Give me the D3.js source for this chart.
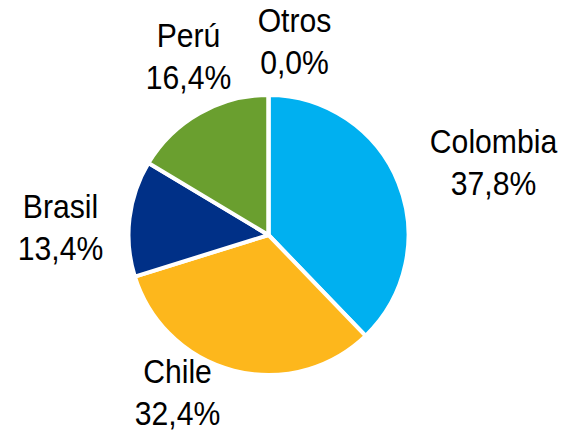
<!DOCTYPE html>
<html>
<head>
<meta charset="utf-8">
<script src="https://cdn.jsdelivr.net/npm/d3@7"></script>
<style>
  body { margin: 0; background: #fff; }
  .label { font-family: "Liberation Sans", Arial, sans-serif; font-size: 33.5px; fill: #000; }
</style>
</head>
<body>
<div id="vis"></div>
<script>
const FRAME_WIDTH = 564;
const FRAME_HEIGHT = 433;
const CENTER = {x: 268.5, y: 235};
const RADIUS = 140;

// data
const countries = ["Colombia", "Chile", "Brasil", "Perú", "Otros"];
const shares = [37.8, 32.4, 13.4, 16.4, 0.0];
const colors = ["#00B0F0", "#FDB71C", "#003087", "#6A9F2F", "#A6A6A6"];

// label anchors (centre x, first baseline) relative to pie centre
const LABEL_POS = [[225, -82], [-91, 148], [-208, -17], [-80, -188], [26, -203]];
const LINE_GAP = 42.5;

const data = countries.map((c, i) => ({name: c, value: shares[i]}));

const FRAME = d3.select("#vis")
  .append("svg")
    .attr("width", FRAME_WIDTH)
    .attr("height", FRAME_HEIGHT);

const g = FRAME.append("g")
  .attr("transform", "translate(" + CENTER.x + "," + CENTER.y + ")");

const pie = d3.pie()
  .sort(null)
  .value((d) => d.value);

const arc = d3.arc()
  .innerRadius(0)
  .outerRadius(RADIUS);

const arcs = pie(data);

g.selectAll("path")
  .data(arcs)
  .enter()
  .append("path")
    .attr("d", arc)
    .attr("fill", (d, i) => colors[i])
    .attr("stroke", "#fff")
    .attr("stroke-width", 4)
    .attr("stroke-linejoin", "round");

// labels: name + share with comma decimal
const fmt = (v) => v.toFixed(1).replace(".", ",") + "%";

const labels = g.selectAll("g.lbl")
  .data(arcs)
  .enter()
  .append("g")
    .attr("class", "lbl")
    .attr("transform", (d, i) => "translate(" + LABEL_POS[i][0] + "," + LABEL_POS[i][1] + ") scale(0.9,1)");

labels.append("text")
  .attr("class", "label")
  .attr("text-anchor", "middle")
  .attr("y", 0)
  .text((d) => d.data.name);

labels.append("text")
  .attr("class", "label")
  .attr("text-anchor", "middle")
  .attr("y", LINE_GAP)
  .text((d) => fmt(d.data.value));
</script>
</body>
</html>
